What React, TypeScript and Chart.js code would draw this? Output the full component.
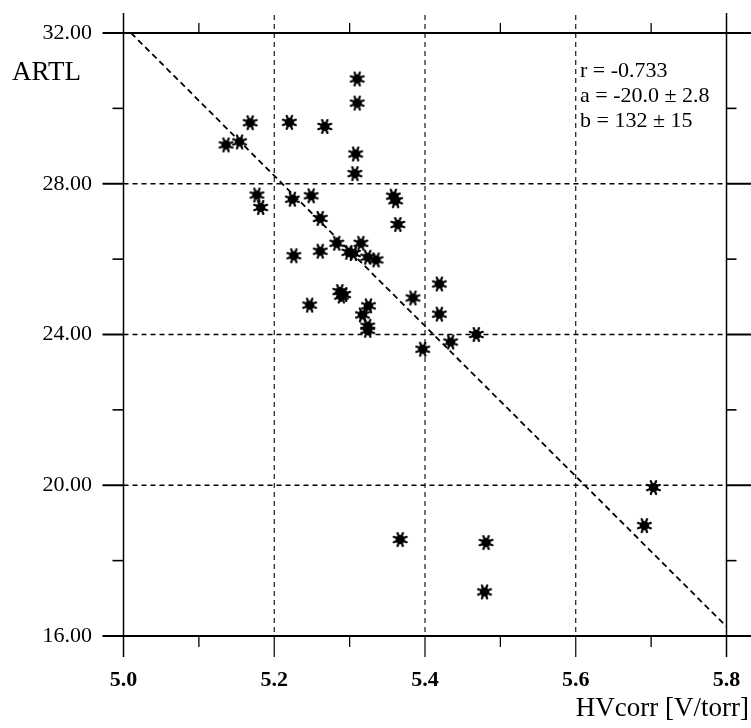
import React, { useEffect, useRef } from "react";
import { Chart, registerables } from "chart.js";

Chart.register(...registerables);

// ---- data ----
const hvCorr = [
  5.136, 5.154, 5.168, 5.22, 5.267, 5.31, 5.31, 5.308, 5.307, 5.177,
  5.182, 5.224, 5.249, 5.358, 5.361, 5.364, 5.261, 5.283, 5.315, 5.299,
  5.305, 5.324, 5.335, 5.226, 5.261, 5.419, 5.384, 5.287, 5.292, 5.289,
  5.247, 5.325, 5.317, 5.324, 5.324, 5.419, 5.468, 5.434, 5.397, 5.367,
  5.481, 5.479, 5.703, 5.691,
];
const artl = [
  29.03, 29.11, 29.62, 29.63, 29.52, 30.78, 30.14, 28.79, 28.27, 27.7,
  27.37, 27.59, 27.68, 27.67, 27.55, 26.92, 27.08, 26.42, 26.42, 26.18,
  26.15, 26.05, 25.98, 26.09, 26.21, 25.34, 24.97, 25.14, 25.06, 25.02,
  24.78, 24.76, 24.52, 24.22, 24.11, 24.54, 24.0, 23.8, 23.61, 18.56,
  18.48, 17.17, 19.94, 18.93,
];
const fitHv = [5.01, 5.8];
const fitArtl = [32.0, 16.25];

const xMajorTicks = [5.0, 5.2, 5.4, 5.6, 5.8];
const xMinorTicks = [5.1, 5.3, 5.5, 5.7];
const yMajorTicks = [16, 20, 24, 28, 32];
const yMinorTicks = [18, 22, 26, 30];
const statLines = ["r = -0.733", "a = -20.0 \u00b1 2.8", "b = 132 \u00b1 15"];
const yTitle = "ARTL";
const xTitle = "HVcorr [V/torr]";

const SERIF = "'Liberation Serif', 'Times New Roman', serif";

function makeMarker(): HTMLCanvasElement {
  const c = document.createElement("canvas");
  c.width = 17;
  c.height = 17;
  const g = c.getContext("2d")!;
  const cx = 8.5, cy = 8.5;
  g.strokeStyle = "#000";
  g.fillStyle = "#000";
  g.lineWidth = 2.2;
  g.lineCap = "round";
  for (let i = 0; i < 8; i++) {
    const a = (Math.PI / 4) * i + Math.PI / 8;
    g.beginPath();
    g.moveTo(cx, cy);
    g.lineTo(cx + Math.cos(a) * 7, cy + Math.sin(a) * 7);
    g.stroke();
  }
  g.beginPath();
  g.arc(cx, cy, 4.6, 0, Math.PI * 2);
  g.fill();
  return c;
}

const zeroPad = (s: any) => {
  s.paddingTop = 0;
  s.paddingBottom = 0;
  s.paddingLeft = 0;
  s.paddingRight = 0;
};

const framePlugin = {
  id: "frame",
  beforeDatasetsDraw(chart: any) {
    const ctx: CanvasRenderingContext2D = chart.ctx;
    const xs = chart.scales.x;
    const ys = chart.scales.y;
    const X = (v: number) => xs.getPixelForValue(v);
    const Y = (v: number) => ys.getPixelForValue(v);
    const left = X(xMajorTicks[0]);
    const right = X(xMajorTicks[xMajorTicks.length - 1]);
    const top = Y(yMajorTicks[yMajorTicks.length - 1]);
    const bottom = Y(yMajorTicks[0]);
    const W = chart.width;

    const seg = (x1: number, y1: number, x2: number, y2: number, w: number, dash: number[] = []) => {
      ctx.save();
      ctx.strokeStyle = "#000";
      ctx.lineWidth = w;
      ctx.setLineDash(dash);
      ctx.beginPath();
      ctx.moveTo(x1, y1);
      ctx.lineTo(x2, y2);
      ctx.stroke();
      ctx.restore();
    };

    // horizontal major lines
    yMajorTicks.forEach((v) => {
      const y = Y(v);
      if (v === yMajorTicks[0] || v === yMajorTicks[yMajorTicks.length - 1]) {
        seg(left - 21, y, W, y, 2);
      } else {
        seg(left - 21, y, left, y, 2);
        seg(left, y, right, y, 1.6, [5, 4]);
        seg(right, y, W, y, 2);
      }
    });
    // y minor ticks
    yMinorTicks.forEach((v) => {
      const y = Y(v);
      seg(left - 11, y, left, y, 1.6);
      seg(right, y, right + 10, y, 1.6);
    });
    // vertical major lines
    xMajorTicks.forEach((v, i) => {
      const x = X(v);
      if (i === 0 || i === xMajorTicks.length - 1) {
        seg(x, top - 20, x, bottom + 21, 1.5);
      } else {
        seg(x, top - 18, x, bottom, 1.1, [5, 4]);
        seg(x, bottom, x, bottom + 21, 1.2);
      }
    });
    // x minor ticks
    xMinorTicks.forEach((v) => {
      const x = X(v);
      seg(x, top - 10, x, top, 1.3);
      seg(x, bottom, x, bottom + 11, 1.3);
    });
  },
  afterDraw(chart: any) {
    const ctx: CanvasRenderingContext2D = chart.ctx;
    ctx.save();
    ctx.fillStyle = "#000";
    ctx.textBaseline = "alphabetic";
    ctx.font = `27px ${SERIF}`;
    ctx.textAlign = "left";
    ctx.fillText(yTitle, 12, 80);
    ctx.textAlign = "right";
    ctx.fillText(xTitle, 749, 716);
    ctx.textAlign = "left";
    ctx.font = `22px ${SERIF}`;
    statLines.forEach((t, i) => ctx.fillText(t, 580, 77 + i * 25));
    ctx.restore();
  },
};

export default function App() {
  const ref = useRef<HTMLCanvasElement | null>(null);

  useEffect(() => {
    if (!ref.current) return;
    const marker = makeMarker();
    const chart = new Chart(ref.current, {
      type: "scatter",
      data: {
        datasets: [
          {
            type: "scatter",
            data: hvCorr.map((x, i) => ({ x, y: artl[i] })),
            pointStyle: marker as any,
            pointRadius: 8,
            pointHoverRadius: 8,
            backgroundColor: "#000",
            borderColor: "#000",
            clip: false as any,
          },
          {
            type: "line",
            data: fitHv.map((x, i) => ({ x, y: fitArtl[i] })),
            borderColor: "#000",
            borderWidth: 1.8,
            borderDash: [6, 4],
            pointRadius: 0,
            fill: false,
            tension: 0,
          } as any,
        ],
      },
      options: {
        animation: false,
        responsive: false,
        maintainAspectRatio: false,
        events: [],
        layout: { padding: { top: 33, right: 24.5, left: 0, bottom: 0 } },
        plugins: { legend: { display: false }, tooltip: { enabled: false }, title: { display: false } },
        scales: {
          x: {
            type: "linear",
            min: 5.0,
            max: 5.8,
            afterBuildTicks: (s: any) => {
              s.ticks = xMajorTicks.map((v) => ({ value: v }));
            },
            afterFit: (s: any) => {
              s.height = 92;
              zeroPad(s);
            },
            grid: { display: false, drawTicks: false },
            border: { display: false },
            ticks: {
              color: "#000",
              padding: 31,
              autoSkip: false,
              maxRotation: 0,
              font: { family: SERIF, size: 22, weight: "bold" },
              callback: (v: any) => Number(v).toFixed(1),
            },
          },
          y: {
            type: "linear",
            min: 16,
            max: 32,
            afterBuildTicks: (s: any) => {
              s.ticks = yMajorTicks.map((v) => ({ value: v }));
            },
            afterFit: (s: any) => {
              s.width = 123.5;
              zeroPad(s);
            },
            grid: { display: false, drawTicks: false },
            border: { display: false },
            ticks: {
              color: "#000",
              padding: 31.5,
              autoSkip: false,
              font: { family: SERIF, size: 22 },
              callback: (v: any) => Number(v).toFixed(2),
            },
          },
        },
      },
      plugins: [framePlugin],
    });
    return () => chart.destroy();
  }, []);

  return (
    <div style={{ position: "fixed", left: 0, top: 0, width: 751, height: 728, background: "#fff" }}>
      <canvas ref={ref} width={751} height={728} style={{ width: 751, height: 728, display: "block" }} />
    </div>
  );
}
